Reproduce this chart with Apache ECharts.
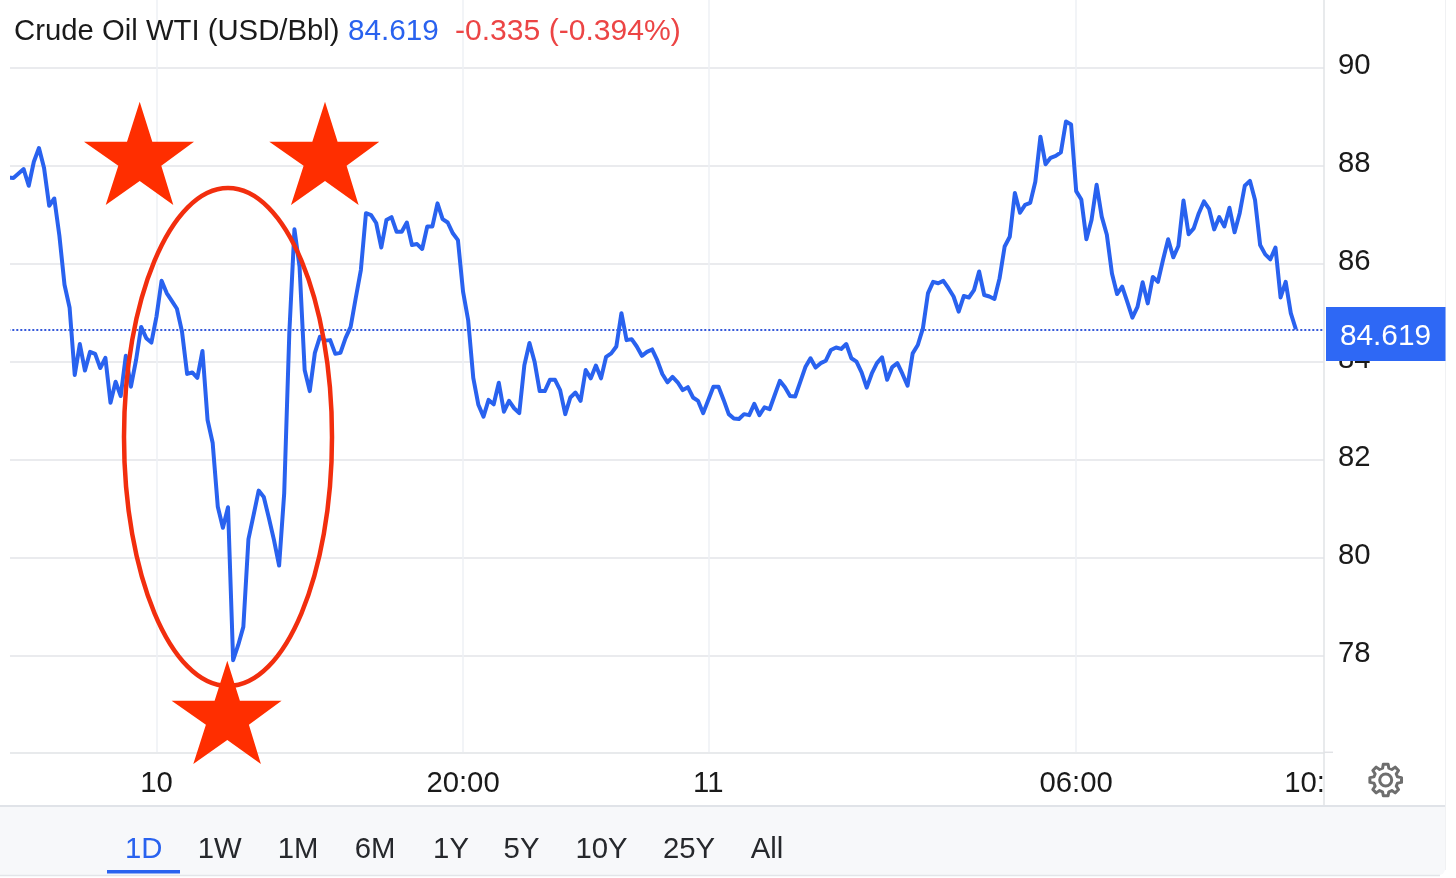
<!DOCTYPE html>
<html>
<head>
<meta charset="utf-8">
<style>html,body{margin:0;padding:0;background:#fff}#chart{width:1456px;height:878px}</style>
<script src="https://cdn.jsdelivr.net/npm/echarts@6/dist/echarts.min.js"></script>
</head>
<body>
<div id="chart"></div>
<script>
const prices = [
87.76,87.75,87.84,87.93,87.59,88.08,88.36,87.95,87.18,87.33,86.57,85.57,85.10,83.73,84.36,83.82,84.20,84.16,83.87,84.08,
83.16,83.59,83.30,84.12,83.49,84.03,84.71,84.48,84.39,84.92,85.65,85.40,85.24,85.08,84.61,83.75,83.78,83.67,84.22,82.81,
82.34,81.04,80.61,81.03,77.91,78.22,78.59,80.38,80.87,81.37,81.24,80.81,80.36,79.84,81.32,84.59,86.70,85.94,83.83,83.40,
84.18,84.51,84.43,84.44,84.16,84.18,84.48,84.71,85.30,85.87,87.03,86.99,86.83,86.33,86.89,86.95,86.65,86.65,86.84,86.38,
86.40,86.30,86.76,86.76,87.23,86.91,86.84,86.62,86.48,85.43,84.85,83.67,83.12,82.88,83.22,83.13,83.57,82.98,83.20,83.05,
82.95,83.93,84.38,84.00,83.40,83.40,83.63,83.63,83.42,82.93,83.27,83.37,83.20,83.83,83.66,83.92,83.66,84.10,84.17,84.31,
84.99,84.44,84.46,84.31,84.12,84.20,84.25,84.03,83.75,83.58,83.69,83.58,83.42,83.48,83.27,83.20,82.95,83.22,83.49,83.49,
83.22,82.93,82.84,82.83,82.93,82.91,83.14,82.91,83.07,83.03,83.32,83.61,83.48,83.30,83.29,83.59,83.89,84.07,83.88,83.97,
84.02,84.24,84.29,84.26,84.36,84.07,84.00,83.78,83.47,83.76,83.97,84.09,83.63,83.89,83.97,83.75,83.51,84.17,84.34,84.68,
85.40,85.63,85.60,85.65,85.50,85.33,85.02,85.34,85.31,85.46,85.84,85.36,85.33,85.28,85.70,86.35,86.55,87.44,87.04,87.20,
87.24,87.67,88.59,88.03,88.16,88.20,88.27,88.90,88.84,87.48,87.31,86.50,86.89,87.61,86.96,86.59,85.80,85.38,85.53,85.22,
84.90,85.12,85.62,85.19,85.73,85.63,86.08,86.50,86.13,86.36,87.29,86.60,86.72,87.03,87.27,87.12,86.70,86.95,86.76,87.14,
86.64,87.03,87.59,87.69,87.30,86.38,86.19,86.09,86.33,85.31,85.63,84.99,84.66
];
const yTicks = [78, 80, 82, 84, 86, 88, 90];
const xGridBars = [29, 89, 137, 209];
const xLabelBars = [29, 89, 137, 209, 253.7];
const xLabels = ['10', '20:00', '11', '06:00', '10:'];
const rangeTabs = ['1D', '1W', '1M', '6M', '1Y', '5Y', '10Y', '25Y', 'All'];
const instrument = 'Crude Oil WTI (USD/Bbl)';
const lastPrice = '84.619';
const lastChange = '-0.335 (-0.394%)';
const priceLevel = prices[prices.length - 1];

const FONT = '"Liberation Sans", Arial, sans-serif';
const BLUE = '#2962ef';
const STAR = '#ff2e00';
const starShape = [[0,0],[12.6,40],[54.3,40],[21.6,64],[33.6,103.3],[0,79.3],[-34,103.3],[-21.4,64],[-55.7,40],[-12.7,40]];
const star = (tx, ty) => ({type:'polygon', z:120, shape:{points:starShape.map(p=>[p[0]+tx,p[1]+ty])}, style:{fill:STAR}});
const tabX = [143.8, 219.7, 298, 375, 451, 521.5, 601.5, 689, 767];
const text = (x, y, s, fill, align, size) => ({type:'text', z:130, x, y, style:{text:s, fill, font:(size||29.3)+'px '+FONT, textAlign:align||'left', textVerticalAlign:'middle'}});
const gearPoints = [];
for (let i = 0; i < 8; i++) {
  const a = i * Math.PI / 4 - Math.PI / 2;
  [[-0.26,12.2],[-0.15,16],[0.15,16],[0.26,12.2]].forEach(p => gearPoints.push([1385.7 + p[1]*Math.cos(a+p[0]), 780 + p[1]*Math.sin(a+p[0])]));
}

const chart = echarts.init(document.getElementById('chart'), null, {renderer:'canvas'});
chart.setOption({
  animation:false,
  backgroundColor:'#fff',
  grid:{left:8.3, top:0, width:1315.7, height:752.3, containLabel:false},
  xAxis:{
    type:'value', min:0, max:257.5,
    axisLine:{show:true, onZero:false, lineStyle:{color:'#e1e3e6', width:1.5}},
    axisTick:{show:false, customValues:xGridBars},
    splitLine:{show:true, lineStyle:{color:'#eef1f5', width:1.5}},
    axisLabel:{customValues:xLabelBars, margin:17, fontFamily:FONT, fontSize:29.3, color:'#1a1a1a',
      formatter:v=>xLabels[xLabelBars.indexOf(v)]}
  },
  yAxis:{
    type:'value', position:'right', min:76.03, max:91.38,
    axisLine:{show:false},
    axisTick:{show:false, customValues:yTicks},
    splitLine:{show:true, lineStyle:{color:'#e3e5e8', width:1.5}},
    axisLabel:{customValues:yTicks, margin:14, formatter:v=>'{t|'+v+'}',
      rich:{t:{fontFamily:FONT, fontSize:29.3, color:'#1a1a1a', padding:[0,0,4,0]}}}
  },
  series:[{
    type:'line', data:prices.map((v,i)=>[i,v]), showSymbol:false, smooth:false,
    lineStyle:{color:BLUE, width:4, join:'round'}, z:5,
    markLine:{silent:true, symbol:'none', z:4,
      lineStyle:{color:'#1f46d6', width:1.8, type:[2,2]},
      label:{show:false}, data:[{yAxis:priceLevel}]}
  }],
  graphic:[
    {type:'rect', z:90, shape:{x:0,y:0,width:10,height:800}, style:{fill:'#fff'}},
    {type:'line', z:91, shape:{x1:1324,y1:0,x2:1324,y2:806}, style:{stroke:'#e1e3e6',lineWidth:1.5}},
    {type:'line', z:91, shape:{x1:1324,y1:752.3,x2:1333,y2:752.3}, style:{stroke:'#e1e3e6',lineWidth:1.5}},
    {type:'rect', z:95, shape:{x:0,y:806,width:1445,height:69,r:[0,0,6,0]}, style:{fill:'#f7f8fa'}},
    {type:'line', z:96, shape:{x1:0,y1:806,x2:1445,y2:806}, style:{stroke:'#e0e3e8',lineWidth:2}},
    {type:'line', z:96, shape:{x1:0,y1:875.5,x2:1440,y2:875.5}, style:{stroke:'#e3e5e9',lineWidth:1.5}},
    {type:'line', z:96, shape:{x1:1445.5,y1:0,x2:1445.5,y2:870}, style:{stroke:'#f0f1f3',lineWidth:1}},
    {type:'rect', z:97, shape:{x:107,y:870,width:73,height:3.5}, style:{fill:'#2962ef'}},
    {type:'rect', z:110, shape:{x:1326,y:307,width:119.5,height:54}, style:{fill:'#2e68f5'}},
    text(1385.5,337,lastPrice,'#fff','center',29.8),
    {type:'ellipse', z:115, shape:{cx:228,cy:437,rx:104,ry:249}, style:{fill:'none',stroke:'#f22e0e',lineWidth:4.5}},
    star(139.7,101.7), star(325,101.7), star(227.3,660.7),
    text(14,32,instrument,'#1a1a1a'),
    text(348,32,lastPrice,'#2962ef','left',29.7),
    text(455,32,lastChange,'#ec4545','left',30.1),
    ...rangeTabs.map((t,i)=>text(tabX[i],850,t,i===0?'#2962ef':'#26282c','center')),
    {type:'polygon', z:130, shape:{points:gearPoints}, style:{fill:'none',stroke:'#6e6e6e',lineWidth:3,lineJoin:'round'}},
    {type:'circle', z:130, shape:{cx:1385.7,cy:780,r:6}, style:{fill:'none',stroke:'#6e6e6e',lineWidth:3}}
  ]
});
</script>
</body>
</html>
